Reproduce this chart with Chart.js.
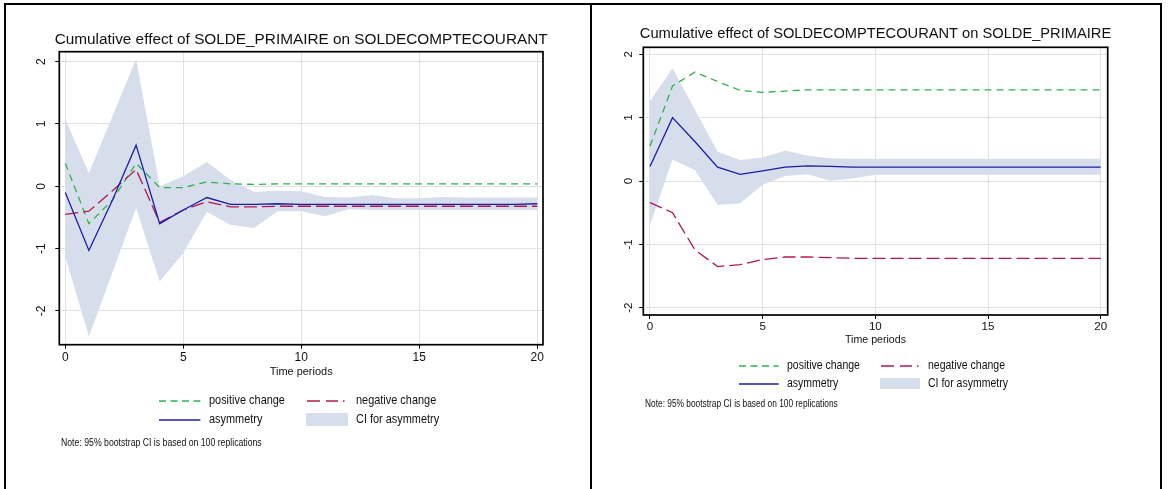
<!DOCTYPE html>
<html><head><meta charset="utf-8">
<script src="https://cdn.jsdelivr.net/npm/chart.js@4.4.1/dist/chart.umd.min.js"></script>
<style>
html,body{margin:0;padding:0;background:#fff;}
#page{position:relative;width:1168px;height:489px;overflow:hidden;background:#fff;}
#page canvas{position:absolute;top:0;}
.rule{position:absolute;background:#000;}
.lg{position:absolute;white-space:nowrap;color:#111;}
.lg svg{position:absolute;left:0;top:0;overflow:visible;}
</style></head><body>
<div id="page">
  <div class="rule" style="left:4px;top:3px;width:1158px;height:2px"></div>
  <div class="rule" style="left:4px;top:3px;width:2px;height:486px"></div>
  <div class="rule" style="left:590px;top:3px;width:2px;height:486px"></div>
  <div class="rule" style="left:1160px;top:3px;width:2px;height:486px"></div>
  <canvas id="c1" width="590" height="489" style="left:0px"></canvas>
  <canvas id="c2" width="576" height="489" style="left:592px"></canvas>
</div>
<script>
// ---------------- data ----------------
const periods = [0,1,2,3,4,5,6,7,8,9,10,11,12,13,14,15,16,17,18,19,20];
const xTickValues = [0,5,10,15,20];
const yTickValues = [-2,-1,0,1,2];
const seriesNames = ['positive change','negative change','asymmetry','CI for asymmetry'];
const titleLeft = 'Cumulative effect of SOLDE_PRIMAIRE on SOLDECOMPTECOURANT';
const titleRight = 'Cumulative effect of SOLDECOMPTECOURANT on SOLDE_PRIMAIRE';
const xAxisTitle = 'Time periods';
const noteText = 'Note: 95% bootstrap CI is based on 100 replications';

// left panel: SOLDE_PRIMAIRE -> SOLDECOMPTECOURANT
const leftPositive = [0.37,-0.60,-0.22,0.37,-0.02,-0.02,0.07,0.04,0.03,0.04,0.04,0.04,0.04,0.04,0.04,0.04,0.04,0.04,0.04,0.04,0.04];
const leftNegative = [-0.45,-0.40,-0.07,0.27,-0.58,-0.38,-0.25,-0.33,-0.33,-0.32,-0.32,-0.32,-0.32,-0.32,-0.32,-0.32,-0.32,-0.32,-0.32,-0.32,-0.32];
const leftAsymmetry = [-0.10,-1.03,-0.22,0.66,-0.60,-0.38,-0.18,-0.29,-0.29,-0.28,-0.29,-0.29,-0.29,-0.29,-0.29,-0.29,-0.29,-0.29,-0.29,-0.29,-0.28];
const leftCIUpper = [1.08,0.21,1.13,2.04,0.00,0.16,0.39,0.10,-0.09,-0.07,-0.08,-0.17,-0.18,-0.14,-0.19,-0.19,-0.17,-0.18,-0.18,-0.18,-0.18];
const leftCILower = [-1.13,-2.41,-1.38,-0.35,-1.53,-1.07,-0.41,-0.62,-0.67,-0.40,-0.40,-0.48,-0.37,-0.38,-0.38,-0.38,-0.38,-0.38,-0.38,-0.38,-0.38];

// right panel: SOLDECOMPTECOURANT -> SOLDE_PRIMAIRE
const rightPositive = [0.55,1.50,1.72,1.57,1.43,1.40,1.42,1.44,1.44,1.44,1.44,1.44,1.44,1.44,1.44,1.44,1.44,1.44,1.44,1.44,1.44];
const rightNegative = [-0.34,-0.50,-1.09,-1.35,-1.32,-1.24,-1.20,-1.20,-1.21,-1.22,-1.22,-1.22,-1.22,-1.22,-1.22,-1.22,-1.22,-1.22,-1.22,-1.22,-1.22];
const rightAsymmetry = [0.23,1.00,0.62,0.22,0.105,0.16,0.22,0.24,0.23,0.22,0.22,0.22,0.22,0.22,0.22,0.22,0.22,0.22,0.22,0.22,0.22];
const rightCIUpper = [1.26,1.78,1.12,0.46,0.33,0.37,0.48,0.40,0.36,0.35,0.35,0.35,0.35,0.35,0.35,0.35,0.35,0.35,0.35,0.35,0.35];
const rightCILower = [-0.69,0.34,0.17,-0.38,-0.35,-0.06,0.08,0.105,0.005,0.04,0.10,0.10,0.10,0.10,0.10,0.10,0.10,0.10,0.10,0.10,0.10];

// ---------------- styles ----------------
const GREEN = '#2fb24e', RED = '#b3174d', BLUE = '#1c1ca6', CIFILL = '#d6deeb';
const GRID = '#e2e2e2', INK = '#111111';
const GREEN_DASH = [7,5], RED_DASH = [13,5];
const CONDENSE = 0.82;   // reference text is horizontally condensed

const mctx = document.createElement('canvas').getContext('2d');
const FAMILY = '"Liberation Sans", Arial, sans-serif';
function textW(text, size){ mctx.font = size + 'px ' + FAMILY; return mctx.measureText(text).width; }
function fitSize(text, target){ return 100 * target / textW(text, 100); }

const GEO_LEFT = {
  canvasLeft:0, canvasW:590, areaL:59.3, areaR:543, areaT:51.7, areaB:344.7,
  titleMid:39.7, titleW:493, xTitleMid:372.3, xTitleW:63, tickMid:358, tickLen:4, yLabelX:41.7, tickSize:12,
  xMin:-0.254, xMax:20.242, yMin:-2.5425, yMax:2.1605,
  rows:[400.8,419.6], col1:[159.3,200.7,209], col2:[306.7,346,356], ciBox:[306,347.7,13.4],
  legTextW:76, noteX:61, noteY:441.5, noteW:201
};
const GEO_RIGHT = {
  canvasLeft:592, canvasW:576, areaL:643.3, areaR:1107.7, areaT:47.3, areaB:315,
  titleMid:34, titleW:472, xTitleMid:340, xTitleW:61, tickMid:326.7, tickLen:4, yLabelX:628.3, tickSize:11.6,
  xMin:-0.297, xMax:20.311, yMin:-2.1152, yMax:2.1105,
  rows:[366,383.5], col1:[739.3,779,786.7], col2:[880.7,920,928], ciBox:[880,920,11.7],
  legTextW:73, noteX:645, noteY:404, noteW:193
};

const framePlugin = {
  id:'frame',
  afterDatasetsDraw(chart){
    const {ctx, chartArea:a} = chart;
    ctx.save(); ctx.strokeStyle = '#000'; ctx.lineWidth = 1.7;
    ctx.strokeRect(a.left, a.top, a.right - a.left, a.bottom - a.top);
    ctx.restore();
  }
};

function pts(vals){ return periods.map((p,i) => ({x:p, y:vals[i]})); }

function buildChart(canvasId, title, d, g){
  const AX = 40;
  const ts = fitSize(title, g.titleW);
  const as = fitSize(xAxisTitle, g.xTitleW);
  const T1 = g.titleMid - 0.6*ts;
  const T2 = Math.max(0, g.areaT - 1.2*ts - T1);
  const tickFont = {family:FAMILY, size:g.tickSize, weight:'normal'};
  const titleFont = {family:FAMILY, size:as, weight:'normal'};
  const widest = textW('-2', g.tickSize);
  const yPad = (g.areaL - g.tickLen - g.yLabelX) - widest/2;
  const xPad = g.tickMid - g.areaB - g.tickLen - 0.6*g.tickSize;
  const xTitlePadB = (g.areaB + AX) - g.xTitleMid - 0.6*as;
  const gridOpts = {color:GRID, lineWidth:1, tickColor:'#000', tickLength:g.tickLen, tickWidth:1, drawTicks:true};
  const line = (label, vals, color, dash) => ({label, data:pts(vals), borderColor:color, borderWidth:1.3,
      borderDash:dash, pointRadius:0, fill:false, tension:0});
  return new Chart(document.getElementById(canvasId), {
    type:'line',
    data:{datasets:[
      line(seriesNames[2], d.asym, BLUE, []),
      line(seriesNames[1], d.neg, RED, RED_DASH),
      line(seriesNames[0], d.pos, GREEN, GREEN_DASH),
      {label:seriesNames[3], data:pts(d.ciUp), borderWidth:0, pointRadius:0, backgroundColor:CIFILL, fill:'+1', tension:0},
      {label:seriesNames[3] + ' (lower)', data:pts(d.ciLo), borderWidth:0, pointRadius:0, fill:false, tension:0}
    ]},
    options:{
      responsive:false, animation:false, events:[],
      layout:{padding:{left:g.areaL - g.canvasLeft - AX, right:g.canvasLeft + g.canvasW - g.areaR - AX, top:0, bottom:489 - g.areaB - AX}},
      plugins:{
        legend:{display:false}, tooltip:{enabled:false},
        title:{display:true, text:title, color:INK, font:{family:FAMILY, size:ts, weight:'normal'}, padding:{top:T1, bottom:T2}}
      },
      scales:{
        x:{type:'linear', position:'bottom', min:g.xMin, max:g.xMax,
           afterBuildTicks: s => { s.ticks = xTickValues.map(v => ({value:v})); },
           afterFit: s => { s.height = AX; },
           grid:gridOpts, border:{display:false},
           ticks:{font:tickFont, color:INK, padding:xPad, maxRotation:0, minRotation:0, autoSkip:false},
           title:{display:true, text:xAxisTitle, color:INK, font:titleFont, padding:{top:0, bottom:xTitlePadB}}},
        y:{type:'linear', position:'left', min:g.yMin, max:g.yMax,
           afterBuildTicks: s => { s.ticks = yTickValues.map(v => ({value:v})); },
           afterFit: s => { s.width = AX; },
           grid:gridOpts, border:{display:false},
           ticks:{font:tickFont, color:INK, padding:yPad, minRotation:90, maxRotation:90, crossAlign:'center', autoSkip:false}},
        yR:{type:'linear', position:'right', display:true,
           afterFit: s => { s.width = AX; },
           grid:{display:false}, border:{display:false}, ticks:{display:false}}
      }
    },
    plugins:[framePlugin]
  });
}

function sample(x0, x1, y, color, dash){
  const w = x1 - x0;
  return '<div class="lg" style="left:'+x0+'px;top:'+(y-5)+'px;width:'+w+'px;height:10px">' +
    '<svg width="'+w+'" height="10"><line x1="0" y1="5" x2="'+w+'" y2="5" stroke="'+color+'" stroke-width="1.4" stroke-dasharray="'+dash+'"/></svg></div>';
}
function label(x, y, text, size){
  const lh = 18;
  return '<div class="lg" style="left:'+x+'px;top:'+(y-1-lh/2)+'px;line-height:'+lh+'px;font-family:'+FAMILY.replace(/"/g,"'")+
    ';font-size:'+size+'px;transform:scaleX('+CONDENSE+');transform-origin:0 50%">'+text+'</div>';
}
function buildLegend(g){
  const ls = fitSize(seriesNames[0], g.legTextW) / CONDENSE;
  const ns = fitSize(noteText, g.noteW) / CONDENSE;
  let h = '';
  h += sample(g.col1[0], g.col1[1], g.rows[0], GREEN, '7 4.5');
  h += label(g.col1[2], g.rows[0], seriesNames[0], ls);
  h += sample(g.col2[0], g.col2[1], g.rows[0], RED, '13 6 12 5 1.6 30');
  h += label(g.col2[2], g.rows[0], seriesNames[1], ls);
  h += sample(g.col1[0], g.col1[1], g.rows[1], BLUE, 'none');
  h += label(g.col1[2], g.rows[1], seriesNames[2], ls);
  const bh = g.ciBox[2];
  h += '<div class="lg" style="left:'+g.ciBox[0]+'px;top:'+(g.rows[1]-bh/2)+'px;width:'+(g.ciBox[1]-g.ciBox[0])+'px;height:'+bh+'px;background:'+CIFILL+'"></div>';
  h += label(g.col2[2], g.rows[1], seriesNames[3], ls);
  h += label(g.noteX, g.noteY + 1, noteText, ns);
  document.getElementById('page').insertAdjacentHTML('beforeend', h);
}

buildChart('c1', titleLeft, {pos:leftPositive, neg:leftNegative, asym:leftAsymmetry, ciUp:leftCIUpper, ciLo:leftCILower}, GEO_LEFT);
buildChart('c2', titleRight, {pos:rightPositive, neg:rightNegative, asym:rightAsymmetry, ciUp:rightCIUpper, ciLo:rightCILower}, GEO_RIGHT);
buildLegend(GEO_LEFT);
buildLegend(GEO_RIGHT);
</script>
</body></html>
